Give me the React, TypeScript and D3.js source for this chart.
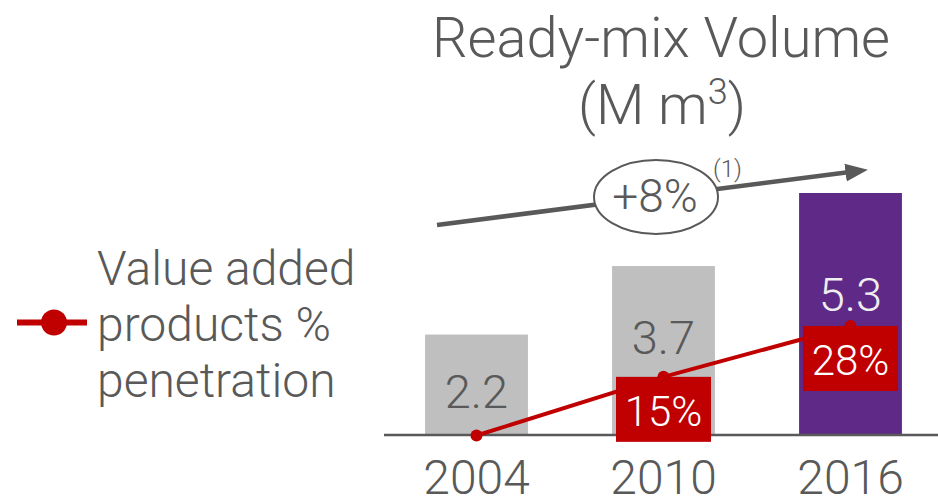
import React from "react";
import * as d3 from "d3";

const years = ["2004", "2010", "2016"];
const volumes = [2.2, 3.7, 5.3];
const volumeLabels = ["2.2", "3.7", "5.3"];
const penetration = [0, 15, 28];
const penetrationLabels = ["", "15%", "28%"];
const barColors = ["#BFBFBF", "#BFBFBF", "#5F2A87"];
const valueLabelColors = ["#595959", "#595959", "#EFEFEF"];
const titleLines = ["Ready-mix Volume", "(M m", ")"];
const legendLines = ["Value added", "products %", "penetration"];
const cagrLabel = "+8%";
const cagrNote = "(1)";

const W = 938;
const H = 496;
const FONT = "Roboto, 'Open Sans', sans-serif";
const TEXT = "#595959";
const RED = "#C00000";

export default function App() {
  const x = d3.scaleBand<string>().domain(years).range([383, 944]).paddingInner(0.45).paddingOuter(0.225);
  const baseY = 435;
  const y = d3.scaleLinear().domain([0, 5.3]).range([baseY, 193]);
  const yp = d3.scaleLinear().domain([0, 28]).range([435.5, 326]);
  const bw = x.bandwidth();
  const cx = (d: string) => (x(d) as number) + bw / 2;

  const line = d3
    .line<number>()
    .x((_, i) => cx(years[i]))
    .y((d) => yp(d));

  return (
    <svg width={W} height={H} style={{ position: "absolute", left: 0, top: 0, background: "#fff" }} fontFamily={FONT}>
      <defs>
        <marker id="arrow" viewBox="0 0 10 10" refX="2" refY="5" markerWidth="5" markerHeight="5" orient="auto" markerUnits="strokeWidth">
          <path d="M0,1 L10,5 L0,9 Z" fill={TEXT} />
        </marker>
      </defs>

      {/* Title */}
      <text x={661} y={57} textAnchor="middle" fontSize={56} fontWeight={300} fill={TEXT}>
        {titleLines[0]}
      </text>
      <text x={662} y={124} textAnchor="middle" fontSize={56} fontWeight={300} fill={TEXT}>
        {titleLines[1]}
        <tspan fontSize={36} dy={-20}>3</tspan>
        <tspan dy={20}>{titleLines[2]}</tspan>
      </text>

      {/* CAGR arrow */}
      <line x1={437} y1={225} x2={850} y2={172} stroke={TEXT} strokeWidth={4.5} markerEnd="url(#arrow)" />
      <ellipse cx={656} cy={197} rx={62} ry={37} fill="#fff" stroke={TEXT} strokeWidth={2} />
      <text x={655} y={212} textAnchor="middle" fontSize={46} fontWeight={300} fill={TEXT}>
        {cagrLabel}
      </text>
      <text x={727.5} y={177} textAnchor="middle" fontSize={24} fontWeight={300} fill={TEXT}>
        {cagrNote}
      </text>

      {/* Bars */}
      {years.map((yr, i) => (
        <rect key={yr} x={x(yr)} y={y(volumes[i])} width={bw} height={baseY - y(volumes[i])} fill={barColors[i]} />
      ))}
      {years.map((yr, i) => (
        <text
          key={"v" + yr}
          x={cx(yr)}
          y={[408, 354, 311][i]}
          textAnchor="middle"
          fontSize={47}
          fontWeight={300}
          fill={valueLabelColors[i]}
        >
          {volumeLabels[i]}
        </text>
      ))}

      {/* Axis */}
      <line x1={384} x2={W} y1={baseY} y2={baseY} stroke={TEXT} strokeWidth={2.5} />
      {years.map((yr) => (
        <text key={"t" + yr} x={cx(yr)} y={494} textAnchor="middle" fontSize={48} fontWeight={300} fill={TEXT}>
          {yr}
        </text>
      ))}

      {/* Penetration line */}
      <path d={line(penetration) as string} fill="none" stroke={RED} strokeWidth={4} />
      {penetration.map((p, i) => (
        <circle key={"c" + i} cx={cx(years[i])} cy={yp(p)} r={6} fill={RED} />
      ))}
      {penetration.map((p, i) =>
        penetrationLabels[i] ? (
          <g key={"pl" + i}>
            <rect x={cx(years[i]) - 47.5} y={yp(p)} width={95} height={65} fill={RED} />
            <text x={cx(years[i])} y={yp(p) + 49} textAnchor="middle" fontSize={42} fontWeight={300} fill="#fff">
              {penetrationLabels[i]}
            </text>
          </g>
        ) : null
      )}

      {/* Legend */}
      <line x1={17} x2={87} y1={322.5} y2={322.5} stroke={RED} strokeWidth={6} />
      <circle cx={54} cy={322.5} r={13} fill={RED} />
      {legendLines.map((t, i) => (
        <text key={"l" + i} x={97} y={285 + i * 56} fontSize={48} fontWeight={300} fill={TEXT}>
          {t}
        </text>
      ))}
    </svg>
  );
}
